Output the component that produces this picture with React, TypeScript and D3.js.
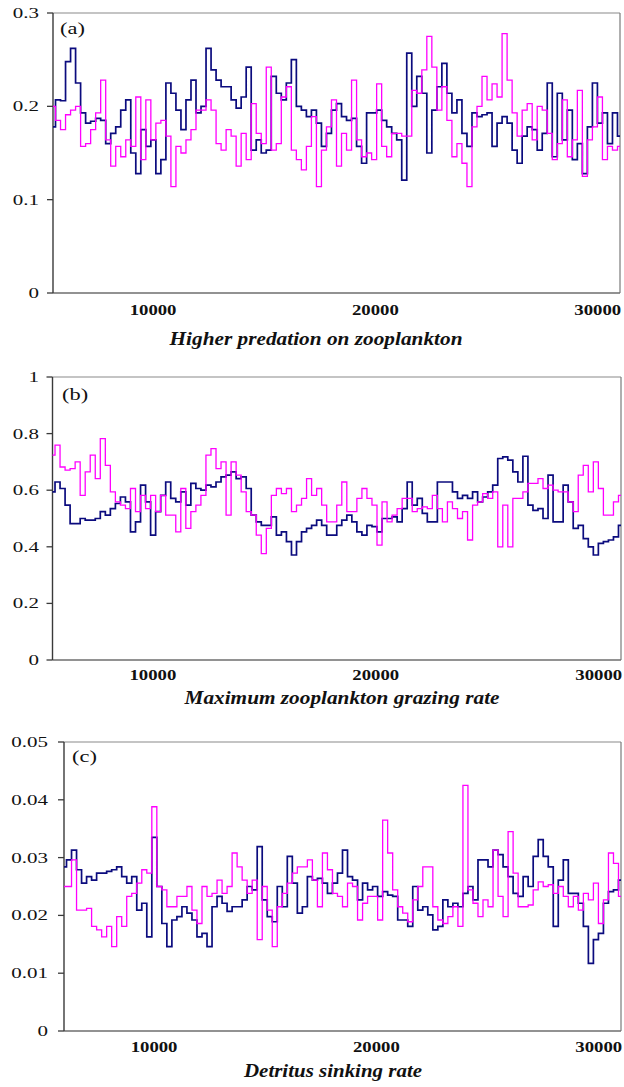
import React from "react";
import * as d3 from "d3";

// ---------- data ----------
const xTickValues = [10000, 20000, 30000];
const xTickLabels = ["10000", "20000", "30000"];

// (a) Higher predation on zooplankton
const predNavy = [
  0.178, 0.207, 0.206, 0.248, 0.262, 0.225, 0.193, 0.182, 0.184, 0.187,
  0.185, 0.16, 0.171, 0.178, 0.196, 0.207, 0.15, 0.128, 0.175, 0.157,
  0.164, 0.128, 0.143, 0.225, 0.214, 0.196, 0.175, 0.207, 0.228, 0.193,
  0.2, 0.262, 0.239, 0.228, 0.221, 0.221, 0.207, 0.198, 0.21, 0.242,
  0.153, 0.164, 0.15, 0.153, 0.232, 0.214, 0.207, 0.225, 0.25, 0.2,
  0.196, 0.189, 0.196, 0.182,
  0.157, 0.171, 0.196, 0.203, 0.189, 0.185, 0.187, 0.157, 0.139, 0.193,
  0.193, 0.196, 0.185, 0.178, 0.171, 0.164, 0.121, 0.257, 0.2, 0.232,
  0.214, 0.15, 0.196, 0.221, 0.246, 0.214, 0.193, 0.207, 0.171, 0.157,
  0.193, 0.189, 0.191, 0.193, 0.157, 0.182, 0.189, 0.182, 0.153, 0.139,
  0.168, 0.178, 0.175, 0.153, 0.171, 0.225, 0.146, 0.214, 0.164, 0.196,
  0.143, 0.16, 0.128, 0.178, 0.225, 0.182, 0.193, 0.16, 0.193, 0.168,
];
const predMagenta = [
  0.2, 0.185, 0.175, 0.191, 0.196, 0.2, 0.157, 0.16, 0.175, 0.193,
  0.228, 0.164, 0.136, 0.157, 0.146, 0.164, 0.157, 0.21, 0.143, 0.207,
  0.164, 0.182, 0.185, 0.168, 0.114, 0.157, 0.15, 0.164, 0.175, 0.196,
  0.196, 0.207, 0.196, 0.16, 0.153, 0.175, 0.168, 0.136, 0.171, 0.143,
  0.203, 0.171, 0.16, 0.242, 0.153, 0.16, 0.21, 0.221, 0.153, 0.143,
  0.132, 0.157, 0.189, 0.114,
  0.153, 0.178, 0.207, 0.136, 0.171, 0.153, 0.228, 0.164, 0.146, 0.15,
  0.143, 0.224, 0.157, 0.146, 0.171, 0.171, 0.168, 0.168, 0.217, 0.214,
  0.239, 0.275, 0.242, 0.196, 0.221, 0.185, 0.146, 0.16, 0.139, 0.114,
  0.178, 0.2, 0.232, 0.207, 0.224, 0.21, 0.278, 0.228, 0.193, 0.168,
  0.196, 0.203, 0.164, 0.2, 0.196, 0.171, 0.143, 0.16, 0.207, 0.146,
  0.164, 0.217, 0.125, 0.164, 0.178, 0.21, 0.143, 0.157, 0.153, 0.157,
];

// (b) Maximum zooplankton grazing rate
const grazNavy = [
  0.594, 0.629, 0.606, 0.547, 0.482, 0.482, 0.5, 0.494, 0.494, 0.5,
  0.524, 0.512, 0.535, 0.553, 0.576, 0.559, 0.453, 0.488, 0.618, 0.559,
  0.441, 0.524, 0.582, 0.629, 0.571, 0.559, 0.594, 0.547, 0.624, 0.606,
  0.6, 0.618, 0.612, 0.629, 0.647, 0.653, 0.665, 0.641, 0.647, 0.606,
  0.512, 0.488, 0.476, 0.476, 0.506, 0.441, 0.453, 0.418, 0.371, 0.418,
  0.453, 0.465, 0.476, 0.494,
  0.476, 0.441, 0.441, 0.476, 0.494, 0.512, 0.488, 0.453, 0.441, 0.476,
  0.471, 0.453, 0.5, 0.5, 0.506, 0.488, 0.535, 0.629, 0.547, 0.571,
  0.518, 0.488, 0.488, 0.629, 0.629, 0.629, 0.594, 0.571, 0.582, 0.571,
  0.594, 0.559, 0.576, 0.594, 0.618, 0.712, 0.718, 0.706, 0.665, 0.629,
  0.72, 0.547, 0.529, 0.535, 0.5, 0.653, 0.488, 0.488, 0.618, 0.559,
  0.465, 0.476, 0.429, 0.4, 0.371, 0.412, 0.418, 0.424, 0.435, 0.476,
];
const grazMagenta = [
  0.724, 0.759, 0.682, 0.671, 0.676, 0.7, 0.582, 0.665, 0.724, 0.641,
  0.782, 0.688, 0.594, 0.559, 0.547, 0.535, 0.606, 0.524, 0.582, 0.535,
  0.582, 0.524, 0.582, 0.512, 0.512, 0.453, 0.606, 0.465, 0.524, 0.547,
  0.582, 0.724, 0.747, 0.676, 0.7, 0.512, 0.7, 0.653, 0.594, 0.524,
  0.512, 0.441, 0.376, 0.465, 0.582, 0.606, 0.588, 0.606, 0.524, 0.547,
  0.571, 0.641, 0.582, 0.606,
  0.547, 0.488, 0.488, 0.547, 0.629, 0.524, 0.524, 0.571, 0.606, 0.571,
  0.547, 0.406, 0.559, 0.488, 0.512, 0.535, 0.571, 0.571, 0.524, 0.535,
  0.541, 0.535, 0.582, 0.535, 0.488, 0.559, 0.535, 0.5, 0.524, 0.424,
  0.547, 0.559, 0.588, 0.571, 0.594, 0.4, 0.547, 0.4, 0.571, 0.571,
  0.594, 0.624, 0.624, 0.641, 0.606, 0.618, 0.6, 0.594, 0.594, 0.559,
  0.524, 0.653, 0.688, 0.594, 0.7, 0.606, 0.512, 0.512, 0.559, 0.582,
];

// (c) Detritus sinking rate
const detNavy = [
  0.0284, 0.0296, 0.0313, 0.0279, 0.0256, 0.0267, 0.0261, 0.0273, 0.0273, 0.0276,
  0.0279, 0.0284, 0.0267, 0.0256, 0.0267, 0.0209, 0.0221, 0.0163, 0.0335, 0.025,
  0.0186, 0.0146, 0.0192, 0.0198, 0.0215, 0.0204, 0.0192, 0.0163, 0.0169, 0.0146,
  0.0215, 0.0233, 0.0221, 0.0207, 0.0215, 0.0215, 0.0227, 0.025, 0.0244, 0.0319,
  0.0227, 0.0198, 0.0189, 0.025, 0.0215, 0.0302, 0.0256, 0.0204, 0.0215, 0.0267,
  0.0261, 0.0264,
  0.0256, 0.0238, 0.0256, 0.0273, 0.0313, 0.0267, 0.0261, 0.0227, 0.0256, 0.0244,
  0.025, 0.0233, 0.0241, 0.0235, 0.0233, 0.0192, 0.0192, 0.0181, 0.025, 0.0209,
  0.0215, 0.0201, 0.0175, 0.0181, 0.0227, 0.0215, 0.0221, 0.0215, 0.0238, 0.025,
  0.0227, 0.0296, 0.0296, 0.0284, 0.0313, 0.0305, 0.0284, 0.0267, 0.0238, 0.0233,
  0.0267, 0.025, 0.0302, 0.0331, 0.0302, 0.0284, 0.0181, 0.0261, 0.0296, 0.0238,
  0.0238, 0.0221, 0.0181, 0.0117, 0.0158, 0.0169, 0.0221, 0.0241, 0.0244, 0.0261,
];
const detMagenta = [
  0.025, 0.025, 0.0296, 0.0209, 0.0209, 0.0212, 0.0181, 0.0175, 0.0163, 0.0181,
  0.0146, 0.0198, 0.0181, 0.0233, 0.0238, 0.0256, 0.0279, 0.0273, 0.0388, 0.025,
  0.0244, 0.0215, 0.0215, 0.0233, 0.0233, 0.025, 0.0209, 0.0186, 0.025, 0.0233,
  0.0238, 0.0261, 0.0238, 0.025, 0.0308, 0.0284, 0.0261, 0.0238, 0.0261, 0.0158,
  0.025, 0.0209, 0.0146, 0.0215, 0.0238, 0.0256, 0.0273, 0.0284, 0.0284, 0.0296,
  0.0261, 0.0215,
  0.0308, 0.0279, 0.0238, 0.0233, 0.0215, 0.0256, 0.025, 0.0192, 0.0221, 0.0233,
  0.0233, 0.0192, 0.0365, 0.0308, 0.0244, 0.0215, 0.0204, 0.0189, 0.0227, 0.025,
  0.0284, 0.0284, 0.0215, 0.0192, 0.0186, 0.0198, 0.0215, 0.0181, 0.0425, 0.0244,
  0.0221, 0.0198, 0.0227, 0.0215, 0.0313, 0.0233, 0.0198, 0.0345, 0.0273, 0.0215,
  0.0215, 0.0218, 0.0244, 0.0258, 0.025, 0.0253, 0.0238, 0.025, 0.0233, 0.0215,
  0.0233, 0.0209, 0.0238, 0.0227, 0.0256, 0.0186, 0.0227, 0.0308, 0.029, 0.0233,
];

const yTicksA = [0, 0.1, 0.2, 0.3];
const yLabelsA = ["0", "0.1", "0.2", "0.3"];
const yTicksB = [0, 0.2, 0.4, 0.6, 0.8, 1];
const yLabelsB = ["0", "0.2", "0.4", "0.6", "0.8", "1"];
const yTicksC = [0, 0.01, 0.02, 0.03, 0.04, 0.05];
const yLabelsC = ["0", "0.01", "0.02", "0.03", "0.04", "0.05"];

const titles = [
  "Higher predation on zooplankton",
  "Maximum zooplankton grazing rate",
  "Detritus sinking rate",
];
const letters = ["(a)", "(b)", "(c)"];

// ---------- drawing ----------
const FONT = "Liberation Serif";
const NAVY = "#0b0b7e";
const MAGENTA = "#ff00ff";

type PanelProps = {
  left: number;
  right: number;
  top: number;
  bottom: number;
  xDomain: [number, number];
  yMax: number;
  yTicks: number[];
  yLabels: string[];
  yLabelRight: number;
  navy: number[];
  magenta: number[];
  letter: string;
  letterX: number;
  letterY: number;
  title: string;
  titleX: number;
  titleY: number;
  titleW: number;
  xLabelY: number;
};

function Panel(p: PanelProps) {
  const x = d3.scaleLinear().domain(p.xDomain).range([p.left, p.right]);
  const y = d3.scaleLinear().domain([0, p.yMax]).range([p.bottom, p.top]);
  const timesFor = (n: number) =>
    d3.range(n).map((k) => p.xDomain[0] + (k * (p.xDomain[1] - p.xDomain[0])) / (n - 1));
  const path = (vals: number[]) => {
    const t = timesFor(vals.length);
    return (
      d3
        .line<number>()
        .curve(d3.curveStep)
        .x((_, i) => x(t[i]))
        .y((d) => y(d))(vals) || ""
    );
  };
  return (
    <g>
      {/* frame */}
      <line x1={p.left} x2={p.right} y1={p.top} y2={p.top} stroke="#8a8a8a" strokeWidth={1.2} />
      <line x1={p.right} x2={p.right} y1={p.top} y2={p.bottom} stroke="#7a7a7a" strokeWidth={1.2} />
      <line x1={p.left} x2={p.right} y1={p.bottom} y2={p.bottom} stroke="#6e6e6e" strokeWidth={1.4} />
      <line x1={p.left} x2={p.left} y1={p.top} y2={p.bottom} stroke="#3a3a3a" strokeWidth={1.4} />
      {p.yTicks.map((v, i) => (
        <g key={i}>
          <line x1={p.left - 6} x2={p.left} y1={y(v)} y2={y(v)} stroke="#3a3a3a" strokeWidth={1.3} />
          <text
            transform={`translate(${p.yLabelRight},${y(v) + 5}) scale(1.4,1)`}
            textAnchor="end"
            fontSize={15}
            fontFamily={FONT}
            fill="#111"
          >
            {p.yLabels[i]}
          </text>
        </g>
      ))}
      {xTickValues.map((v, i) => (
        <text
          key={i}
          transform={`translate(${x(v)},${p.xLabelY}) scale(1.25,1)`}
          textAnchor="middle"
          fontSize={15}
          fontWeight="bold"
          fontFamily={FONT}
          fill="#111"
        >
          {xTickLabels[i]}
        </text>
      ))}
      <path d={path(p.navy)} fill="none" stroke={NAVY} strokeWidth={1.7} />
      <path d={path(p.magenta)} fill="none" stroke={MAGENTA} strokeWidth={1.3} />
      <text
        transform={`translate(${p.letterX},${p.letterY}) scale(1.4,1)`}
        fontSize={16}
        fontFamily={FONT}
        fill="#111"
      >
        {p.letter}
      </text>
      <text
        x={p.titleX}
        y={p.titleY}
        textAnchor="middle"
        textLength={p.titleW}
        lengthAdjust="spacingAndGlyphs"
        fontSize={19}
        fontWeight="bold"
        fontStyle="italic"
        fontFamily={FONT}
        fill="#111"
      >
        {p.title}
      </text>
    </g>
  );
}

export default function App() {
  return (
    <svg
      width={624}
      height={1087}
      viewBox="0 0 624 1087"
      style={{ position: "absolute", left: 0, top: 0, display: "block", background: "#fff" }}
    >
      <rect x={0} y={0} width={624} height={1087} fill="#fff" />
      <Panel
        left={53}
        right={620}
        top={13}
        bottom={293}
        xDomain={[5500, 31000]}
        yMax={0.3}
        yTicks={yTicksA}
        yLabels={yLabelsA}
        yLabelRight={39}
        navy={predNavy}
        magenta={predMagenta}
        letter={letters[0]}
        letterX={60}
        letterY={34}
        title={titles[0]}
        titleX={316}
        titleY={345}
        titleW={293}
        xLabelY={315}
      />
      <Panel
        left={52.5}
        right={621}
        top={377}
        bottom={660}
        xDomain={[5500, 31000]}
        yMax={1}
        yTicks={yTicksB}
        yLabels={yLabelsB}
        yLabelRight={39}
        navy={grazNavy}
        magenta={grazMagenta}
        letter={letters[1]}
        letterX={62}
        letterY={400}
        title={titles[1]}
        titleX={342}
        titleY={704}
        titleW={315}
        xLabelY={680}
      />
      <Panel
        left={64}
        right={621}
        top={742}
        bottom={1031}
        xDomain={[5950, 31000]}
        yMax={0.05}
        yTicks={yTicksC}
        yLabels={yLabelsC}
        yLabelRight={48}
        navy={detNavy}
        magenta={detMagenta}
        letter={letters[2]}
        letterX={72}
        letterY={762}
        title={titles[2]}
        titleX={333}
        titleY={1077}
        titleW={178}
        xLabelY={1052}
      />
    </svg>
  );
}
